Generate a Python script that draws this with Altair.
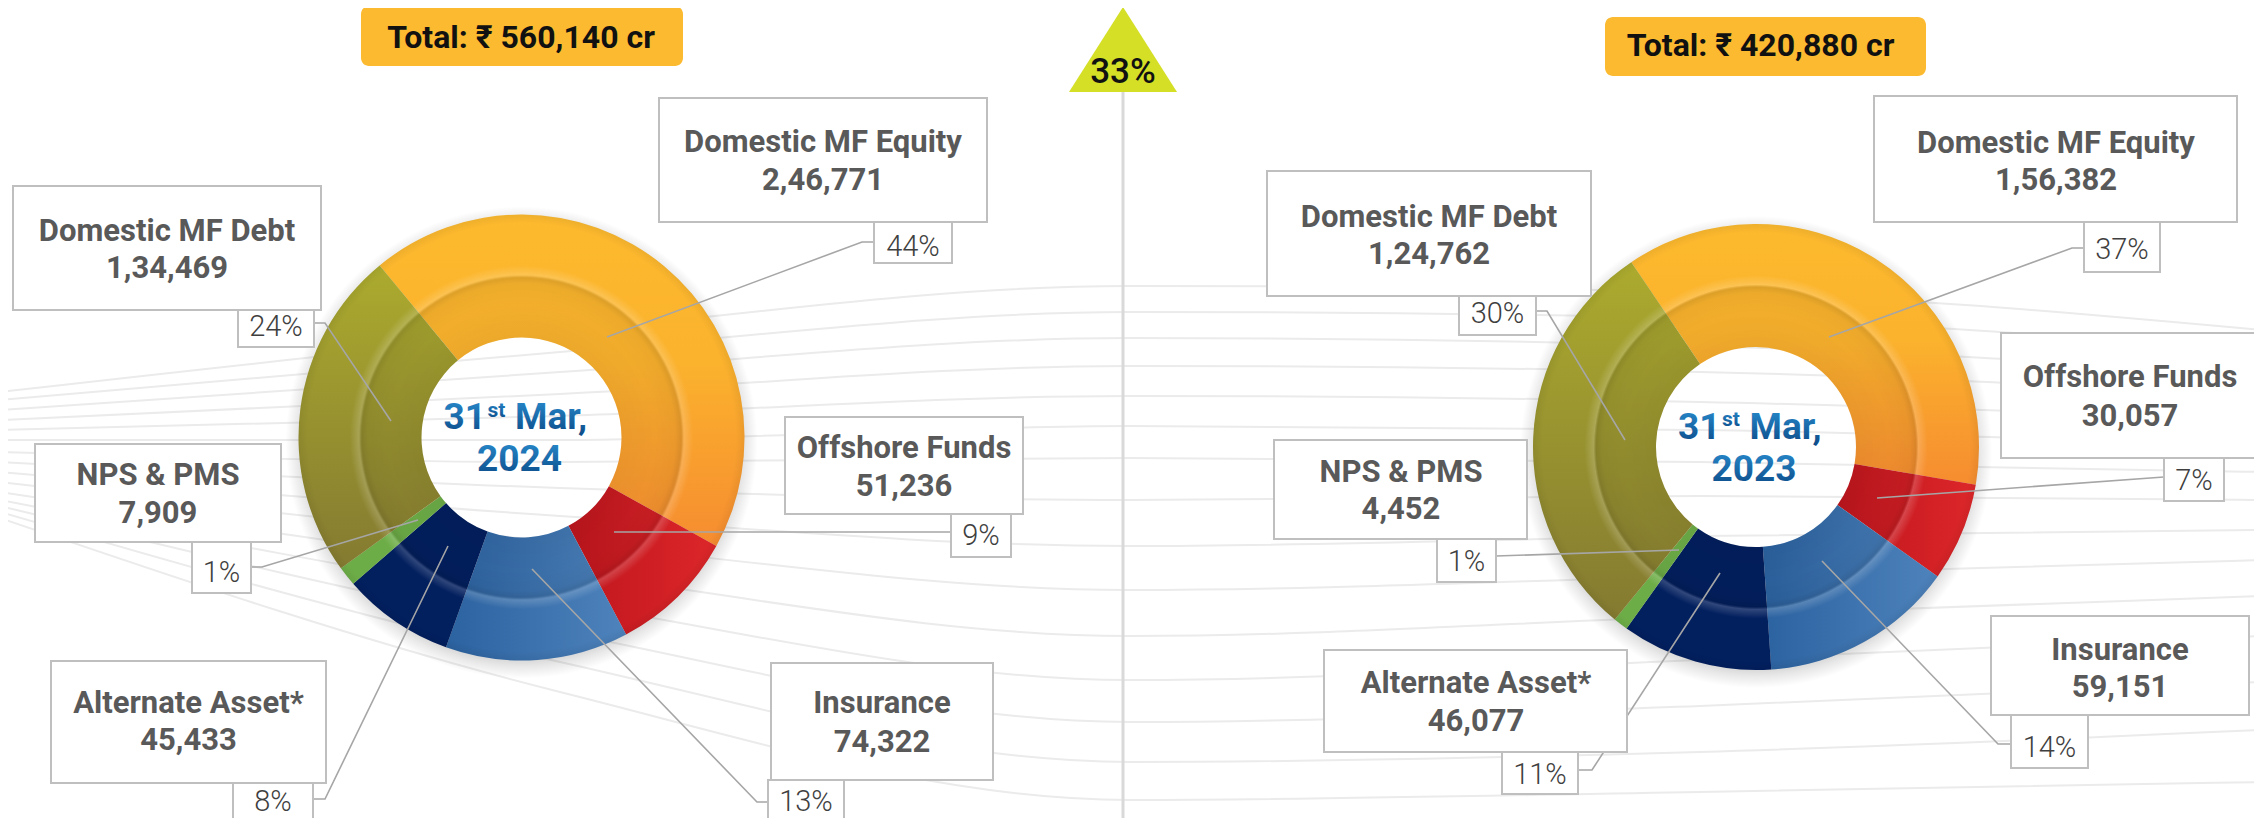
import math
import altair as alt
import pandas as pd

# ---------------- data ----------------
categories = ["Domestic MF Equity", "Offshore Funds", "Insurance",
              "Alternate Asset*", "NPS & PMS", "Domestic MF Debt"]
aum_2024 = [246771, 51236, 74322, 45433, 7909, 134469]
aum_2023 = [156382, 30057, 59151, 46077, 4452, 124762]
years = ["2024", "2023"]
total_labels = ["Total: ₹ 560,140 cr", "Total: ₹ 420,880 cr"]
date_day = "31"
date_suffix = "st"
date_month = "Mar,"
growth_label = "33%"

# decorative background swooshes (y read at swoosh_x)
swoosh_x = [0, 560, 1130, 1700, 2262]
swoosh_y = [
    [392, 332, 286, 292, 330],
    [400, 352, 312, 318, 352],
    [410, 372, 338, 346, 374],
    [420, 394, 366, 372, 396],
    [430, 416, 396, 402, 420],
    [440, 440, 426, 430, 446],
    [452, 462, 458, 462, 472],
    [462, 488, 500, 496, 500],
    [472, 516, 546, 536, 530],
    [482, 542, 590, 576, 560],
    [492, 572, 636, 616, 596],
    [500, 602, 680, 660, 636],
    [506, 632, 722, 706, 682],
    [512, 662, 762, 752, 730],
    [518, 692, 800, 792, 782],
]

# ---------------- layout ----------------
W, H, M = 2262, 826, 8
R_OUT, R_IN = 223, 100
donut = {
    "2024": {"cx": 521.5, "cy": 437.5, "start_deg": -39.5,
             "tbox": (361, 6, 683, 66), "tx": 521, "ty": 48},
    "2023": {"cx": 1756, "cy": 447, "start_deg": -34.0,
             "tbox": (1605, 17, 1926, 76), "tx": 1760.5, "ty": 56},
}
# box, text centre x, baselines, pct box, pct centre, pct baseline, leader
layout = {
    ("2024", "Domestic MF Equity"): ((659, 98, 987, 222), 823, 152, 190, (874, 222, 952, 263), 913, 256,
                                     [(874, 242), (862, 242), (607, 337)]),
    ("2024", "Offshore Funds"): ((785, 417, 1023, 514), 904, 458, 496, (951, 514, 1011, 557), 981, 545,
                                 [(951, 532), (614, 532)]),
    ("2024", "Insurance"): ((771, 663, 993, 780), 882, 713, 752, (768, 780, 844, 840), 806, 811,
                            [(768, 802), (757, 802), (532, 569)]),
    ("2024", "Alternate Asset*"): ((51, 661, 326, 783), 188.5, 713, 750, (233, 783, 313, 840), 273, 811,
                                   [(313, 799), (325, 799), (448, 546)]),
    ("2024", "NPS & PMS"): ((35, 444, 281, 542), 158, 485, 523, (192, 542, 251, 593), 221.5, 582,
                            [(251, 567), (262, 567), (418, 520)]),
    ("2024", "Domestic MF Debt"): ((13, 186, 321, 310), 167, 241, 278, (238, 310, 314, 347), 276, 336,
                                   [(314, 323), (325, 323), (391, 421)]),
    ("2023", "Domestic MF Equity"): ((1874, 96, 2237, 222), 2056, 153, 190, (2084, 222, 2160, 272), 2122, 259,
                                     [(2084, 248), (2072, 248), (1829, 337)]),
    ("2023", "Offshore Funds"): ((2001, 333, 2258, 458), 2130, 387, 426, (2164, 458, 2224, 501), 2194, 490,
                                 [(2164, 477), (1877, 498)]),
    ("2023", "Insurance"): ((1991, 616, 2249, 715), 2120, 660, 697, (2011, 715, 2088, 768), 2049.5, 757,
                            [(2011, 744), (1998, 744), (1822, 561)]),
    ("2023", "Alternate Asset*"): ((1324, 650, 1627, 752), 1476, 693, 731, (1502, 752, 1578, 794), 1540, 784,
                                   [(1578, 770), (1592, 770), (1720, 573)]),
    ("2023", "NPS & PMS"): ((1274, 440, 1527, 539), 1401, 482, 519, (1437, 539, 1496, 582), 1466.5, 571,
                            [(1496, 556), (1679, 550)]),
    ("2023", "Domestic MF Debt"): ((1267, 171, 1591, 296), 1429, 227, 264, (1459, 296, 1536, 335), 1497.5, 323,
                                   [(1536, 311), (1547, 311), (1625, 440)]),
}

FONT = "Roboto"
LABEL_GREY = "#595959"


def X(f):
    return alt.X(f, type="quantitative", axis=None,
                 scale=alt.Scale(domain=[M, W - M], nice=False, zero=False))


def Y(f):
    return alt.Y(f, type="quantitative", axis=None,
                 scale=alt.Scale(domain=[M, H - M], nice=False, zero=False, reverse=True))


def lin(stops, x1=0, y1=0, x2=0, y2=1):
    return alt.LinearGradient(gradient="linear", x1=x1, y1=y1, x2=x2, y2=y2,
                              stops=[alt.GradientStop(offset=o, color=c) for o, c in stops])


def rad(stops):
    return alt.RadialGradient(gradient="radial", x1=0.5, y1=0.5, r1=0, x2=0.5, y2=0.5, r2=0.5,
                              stops=[alt.GradientStop(offset=o, color=c) for o, c in stops])


def indian(n):
    s = str(n)
    if len(s) <= 3:
        return s
    last3, rest = s[-3:], s[:-3]
    groups = []
    while len(rest) > 2:
        groups.insert(0, rest[-2:])
        rest = rest[:-2]
    if rest:
        groups.insert(0, rest)
    return ",".join(groups + [last3])


slice_fill = {
    "Domestic MF Equity": lin([(0, "#FDBA2E"), (0.45, "#FBB22D"), (1, "#F68C30")]),
    "Offshore Funds": lin([(0, "#BE151D"), (1, "#DD272A")], 0, 0, 1, 0),
    "Insurance": lin([(0, "#2B62A0"), (1, "#4E83BC")], 0, 0, 1, 0),
    "Alternate Asset*": "#021F5E",
    "NPS & PMS": "#6DAD47",
    "Domestic MF Debt": lin([(0, "#ACAB2E"), (1, "#847A31")]),
}

# ---------------- tables ----------------
slices = []
for y, vals in zip(years, [aum_2024, aum_2023]):
    for i, (c, v) in enumerate(zip(categories, vals)):
        slices.append(dict(year=y, cat=c, order=i, value=v,
                           cx=donut[y]["cx"], cy=donut[y]["cy"],
                           offset=math.radians(donut[y]["start_deg"]) + 2 * math.pi))
slices_df = pd.DataFrame(slices)

rings_df = pd.DataFrame([dict(cx=donut[y]["cx"], cy=donut[y]["cy"], sy=donut[y]["cy"] + 5) for y in years])

boxes, texts, pct_texts, leaders = [], [], [], []
for y, vals in zip(years, [aum_2024, aum_2023]):
    tot = sum(vals)
    for c, v in zip(categories, vals):
        box, tcx, b1, b2, pbox, pcx, pb, pts = layout[(y, c)]
        boxes.append(dict(x0=box[0], y0=box[1], x1=box[2], y1=box[3]))
        boxes.append(dict(x0=pbox[0], y0=pbox[1], x1=pbox[2], y1=pbox[3]))
        texts.append(dict(text=c, tx=tcx, ty=b1))
        texts.append(dict(text=indian(v), tx=tcx, ty=b2))
        pct_texts.append(dict(text=f"{round(100 * v / tot)}%", tx=pcx, ty=pb))
        for k, (px, py) in enumerate(pts):
            leaders.append(dict(lid=f"{y}-{c}", idx=k, x=px, y=py))
boxes_df = pd.DataFrame(boxes)
texts_df = pd.DataFrame(texts)
pct_df = pd.DataFrame(pct_texts)
leaders_df = pd.DataFrame(leaders)

totals_df = pd.DataFrame([dict(text=t, x0=donut[y]["tbox"][0], y0=donut[y]["tbox"][1],
                               x1=donut[y]["tbox"][2], y1=donut[y]["tbox"][3],
                               tx=donut[y]["tx"], ty=donut[y]["ty"]) for y, t in zip(years, total_labels)])

date_df = pd.DataFrame([dict(day=date_day, suf=date_suffix, mon=date_month, yr=y,
                             dx=donut[y]["cx"] - 35.5, sx=donut[y]["cx"] - 34, mx=donut[y]["cx"] - 6.5,
                             yx=donut[y]["cx"] - 2,
                             l1=donut[y]["cy"] - 8.5, ls=donut[y]["cy"] - 21, l2=donut[y]["cy"] + 33.5)
                        for y in years])

sw_rows = []
for j, ys in enumerate(swoosh_y):
    for k, (sx, sy) in enumerate(zip(swoosh_x, ys)):
        sw_rows.append(dict(lid=j, idx=k, x=sx, y=sy))
swoosh_df = pd.DataFrame(sw_rows)

divider_df = pd.DataFrame([dict(x=1123, y0=92, y1=826)])
badge_df = pd.DataFrame([dict(x=1123, y=49.5, text=growth_label, ty=83)])

# ---------------- layers ----------------
swoosh = alt.Chart(swoosh_df).mark_line(color="#EBEBEB", strokeWidth=2, interpolate="monotone").encode(
    x=X("x"), y=Y("y"), detail="lid:N", order="idx:Q")

divider = alt.Chart(divider_df).mark_rule(color="#D9D9D9", strokeWidth=3).encode(
    x=X("x"), y=Y("y0"), y2="y1")

badge = alt.Chart(badge_df).mark_point(shape="M0,-0.787L1,0.787L-1,0.787Z", filled=True, size=11664,
                                       fill="#D4DF26", opacity=1, strokeWidth=0).encode(x=X("x"), y=Y("y"))
badge_text = alt.Chart(badge_df).mark_text(font=FONT, fontSize=35, fontWeight=500, color="#111111",
                                           align="center", baseline="alphabetic").encode(
    x=X("x"), y=Y("ty"), text="text:N")

total_box = alt.Chart(totals_df).mark_rect(cornerRadius=8, fill="#FBBA30").encode(
    x=X("x0"), x2="x1", y=Y("y0"), y2="y1")
total_text = alt.Chart(totals_df).mark_text(font=FONT, fontSize=32, fontWeight="bold", color="#111111",
                                            align="center", baseline="alphabetic").encode(
    x=X("tx"), y=Y("ty"), text="text:N")

shadow = alt.Chart(rings_df).mark_arc(radius=236, radius2=150, theta=0, theta2=6.2832, strokeWidth=0,
                                      fill=rad([(0, "rgba(0,0,0,0)"), (0.90, "rgba(0,0,0,0.20)"),
                                                (0.95, "rgba(0,0,0,0.09)"), (1, "rgba(0,0,0,0)")])).encode(
    x=X("cx"), y=Y("sy"))

arc_base = (alt.Chart(slices_df)
            .transform_joinaggregate(total="sum(value)", groupby=["year"])
            .transform_window(cum="sum(value)", sort=[alt.SortField("order", order="ascending")],
                              groupby=["year"], frame=[None, 0])
            .transform_calculate(a0="datum.offset + 2*PI*(datum.cum - datum.value)/datum.total",
                                 a1="datum.offset + 2*PI*datum.cum/datum.total"))
arc_layers = []
for c in categories:
    arc_layers.append(
        arc_base.transform_filter(alt.datum.cat == c)
        .mark_arc(radius=R_OUT, radius2=R_IN, fill=slice_fill[c], strokeWidth=0)
        .encode(x=X("cx"), y=Y("cy"),
                theta=alt.Theta("a0:Q", scale=None, stack=None), theta2=alt.Theta2("a1:Q")))

bevel = alt.Chart(rings_df).mark_arc(radius=R_OUT, radius2=R_IN, theta=0, theta2=6.2832, strokeWidth=0,
                                     fill=rad([(0, "rgba(0,0,0,0)"), (0.448, "rgba(0,0,0,0.06)"),
                                               (0.60, "rgba(0,0,0,0.04)"), (0.69, "rgba(0,0,0,0.06)"),
                                               (0.716, "rgba(0,0,0,0.12)"), (0.728, "rgba(255,255,255,0.18)"),
                                               (0.77, "rgba(255,255,255,0)"), (0.96, "rgba(0,0,0,0)"),
                                               (1, "rgba(0,0,0,0.06)")])).encode(x=X("cx"), y=Y("cy"))

date_fill = lin([(0, "#2A90D2"), (1, "#0A4784")])
d_day = alt.Chart(date_df).mark_text(font=FONT, fontSize=37, fontWeight="bold", fill=date_fill,
                                     align="right", baseline="alphabetic").encode(x=X("dx"), y=Y("l1"), text="day:N")
d_suf = alt.Chart(date_df).mark_text(font=FONT, fontSize=21, fontWeight="bold", fill=date_fill,
                                     align="left", baseline="alphabetic").encode(x=X("sx"), y=Y("ls"), text="suf:N")
d_mon = alt.Chart(date_df).mark_text(font=FONT, fontSize=37, fontWeight="bold", fill=date_fill,
                                     align="left", baseline="alphabetic").encode(x=X("mx"), y=Y("l1"), text="mon:N")
d_yr = alt.Chart(date_df).mark_text(font=FONT, fontSize=37, fontWeight="bold", fill=date_fill,
                                    align="center", baseline="alphabetic").encode(x=X("yx"), y=Y("l2"), text="yr:N")

leader_lines = alt.Chart(leaders_df).mark_line(color="#A6A6A6", strokeWidth=1.6).encode(
    x=X("x"), y=Y("y"), detail="lid:N", order="idx:Q")

label_boxes = alt.Chart(boxes_df).mark_rect(fill="white", stroke="#BFBFBF", strokeWidth=2).encode(
    x=X("x0"), x2="x1", y=Y("y0"), y2="y1")

label_text = alt.Chart(texts_df).mark_text(font=FONT, fontSize=31, fontWeight="bold", color=LABEL_GREY,
                                           align="center", baseline="alphabetic").encode(
    x=X("tx"), y=Y("ty"), text="text:N")

pct_text = alt.Chart(pct_df).mark_text(font=FONT, fontSize=29, fontWeight=300, color="#3F3F3F",
                                       align="center", baseline="alphabetic").encode(
    x=X("tx"), y=Y("ty"), text="text:N")

chart = alt.layer(
    swoosh, divider, badge, badge_text, total_box, total_text, shadow, *arc_layers, bevel,
    d_day, d_suf, d_mon, d_yr, leader_lines, label_boxes, label_text, pct_text,
).properties(
    width=W - 2 * M, height=H - 2 * M, padding=0, autosize="none", background="white"
).configure_view(strokeWidth=0)

chart.save("out.html", embed_options={"renderer": "svg", "actions": False})
